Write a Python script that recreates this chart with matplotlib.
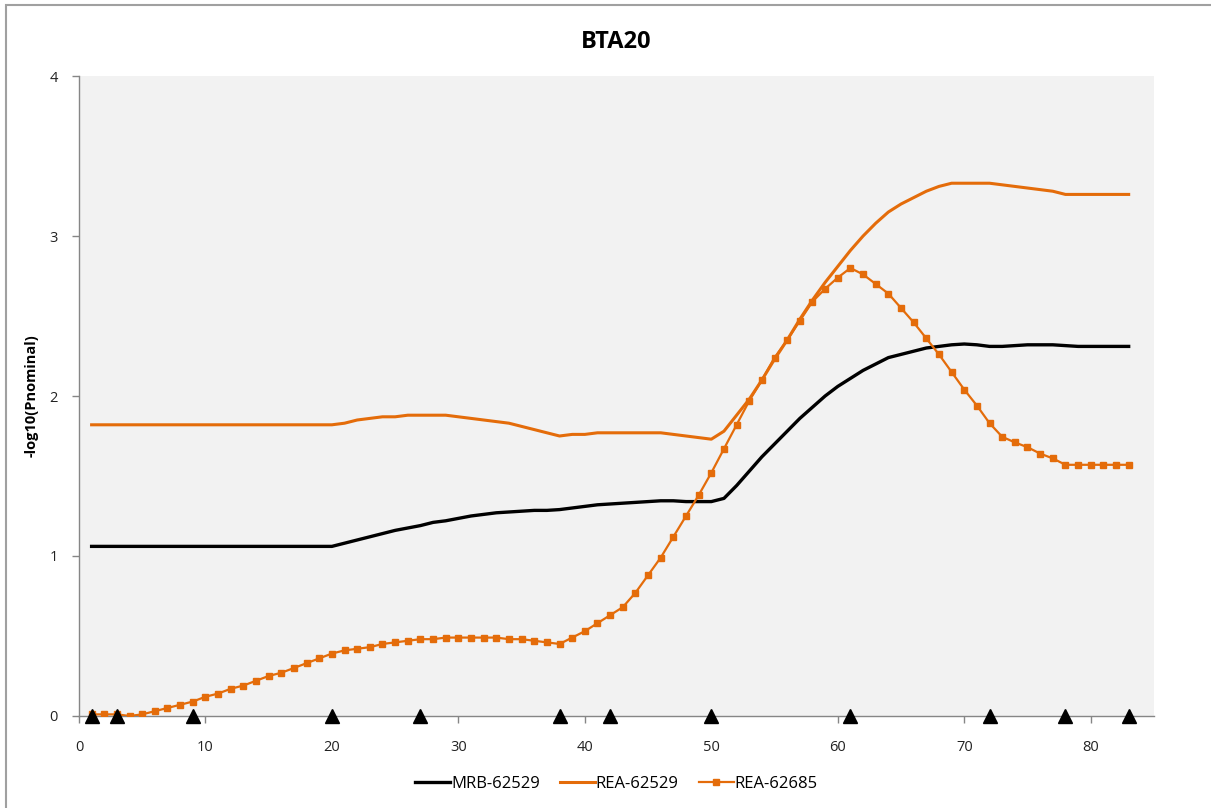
import matplotlib.pyplot as plt
from matplotlib.patches import Rectangle

plt.rcParams['font.family'] = ['Open Sans', 'DejaVu Sans']

# positions along the chromosome (1..83)
pos = list(range(1, 84))

mrb_62529 = [1.06] * 20 + [
    1.08, 1.10, 1.12, 1.14, 1.16, 1.175, 1.19, 1.21, 1.22, 1.235,
    1.25, 1.26, 1.27, 1.275, 1.28, 1.285, 1.285, 1.29, 1.30, 1.31,
    1.32, 1.325, 1.33, 1.335, 1.34, 1.345, 1.345, 1.34, 1.34, 1.34,
    1.36, 1.44, 1.53, 1.62, 1.70, 1.78, 1.86, 1.93, 2.00, 2.06,
    2.11, 2.16, 2.20, 2.24, 2.26, 2.28, 2.30, 2.31, 2.32, 2.325,
    2.32, 2.31, 2.31, 2.315, 2.32, 2.32, 2.32, 2.315,
    2.31, 2.31, 2.31, 2.31, 2.31]

rea_62529 = [1.82] * 20 + [
    1.83, 1.85, 1.86, 1.87, 1.87, 1.88, 1.88, 1.88, 1.88, 1.87,
    1.86, 1.85, 1.84, 1.83, 1.81, 1.79, 1.77, 1.75, 1.76, 1.76,
    1.77, 1.77, 1.77, 1.77, 1.77, 1.77, 1.76, 1.75, 1.74, 1.73,
    1.78, 1.88, 1.98, 2.10, 2.23, 2.35, 2.48, 2.60, 2.71, 2.81,
    2.91, 3.00, 3.08, 3.15, 3.20, 3.24, 3.28, 3.31, 3.33, 3.33,
    3.33, 3.33, 3.32, 3.31, 3.30, 3.29, 3.28, 3.26,
    3.26, 3.26, 3.26, 3.26, 3.26]

rea_62685 = [
    0.01, 0.01, 0.01, 0.00, 0.01, 0.03, 0.05, 0.07, 0.09, 0.12,
    0.14, 0.17, 0.19, 0.22, 0.25, 0.27, 0.30, 0.33, 0.36, 0.39,
    0.41, 0.42, 0.43, 0.45, 0.46, 0.47, 0.48, 0.48, 0.49, 0.49,
    0.49, 0.49, 0.49, 0.48, 0.48, 0.47, 0.46, 0.45, 0.49, 0.53,
    0.58, 0.63, 0.68, 0.77, 0.88, 0.99, 1.12, 1.25, 1.38, 1.52,
    1.67, 1.82, 1.97, 2.10, 2.24, 2.35, 2.47, 2.59, 2.67, 2.74,
    2.80, 2.76, 2.70, 2.64, 2.55, 2.46, 2.36, 2.26, 2.15, 2.04,
    1.94, 1.83, 1.745, 1.71, 1.68, 1.64, 1.61, 1.57,
    1.57, 1.57, 1.57, 1.57, 1.57]

# marker loci shown along the x axis
marker_pos = [1, 3, 9, 20, 27, 38, 42, 50, 61, 72, 78, 83]

orange = '#E46C0A'
axis_grey = '#868686'

fig = plt.figure(figsize=(12.11, 8.08), dpi=100)
ax = fig.add_axes([0.0652, 0.1139, 0.8877, 0.7920])
ax.set_facecolor('#F2F2F2')

ax.plot(pos, mrb_62529, color='black', lw=2.4, label='MRB-62529', zorder=3)
ax.plot(pos, rea_62529, color=orange, lw=2.2, label='REA-62529', zorder=3)
ax.plot(pos, rea_62685, color=orange, lw=1.6, marker='s', markersize=4.2,
        label='REA-62685', zorder=4)
ax.plot(marker_pos, [0] * len(marker_pos), linestyle='none', marker='^',
        color='black', markersize=10, clip_on=False, zorder=5)

ax.set_xlim(0, 85)
ax.set_ylim(0, 4)
ax.set_xticks(range(0, 81, 10))
ax.set_yticks(range(0, 5))

for side in ['top', 'right']:
    ax.spines[side].set_visible(False)
for side in ['left', 'bottom']:
    ax.spines[side].set_color(axis_grey)
    ax.spines[side].set_linewidth(1.0)
ax.tick_params(axis='both', colors=axis_grey, labelcolor='#222222',
               labelsize=10.5, length=5, width=1)
ax.tick_params(axis='x', pad=12)
ax.tick_params(axis='y', pad=10)

ax.set_title('BTA20', fontsize=17, fontweight='bold', pad=20)
ax.set_ylabel('-log10(Pnominal)', fontsize=10.5, fontweight='bold', labelpad=8)

ax.legend(loc='upper center', bbox_to_anchor=(0.5, -0.07), ncol=3,
          frameon=False, fontsize=12, handlelength=2.1, handletextpad=0.05,
          columnspacing=1.2)

# outer chart border
fig.patches.append(Rectangle((6 / 1211, -0.05), 1.1, 1.05 - 5 / 808,
                             transform=fig.transFigure, fill=False,
                             edgecolor='#A0A0A0', lw=1.5))

plt.savefig('out.png', dpi=100)
